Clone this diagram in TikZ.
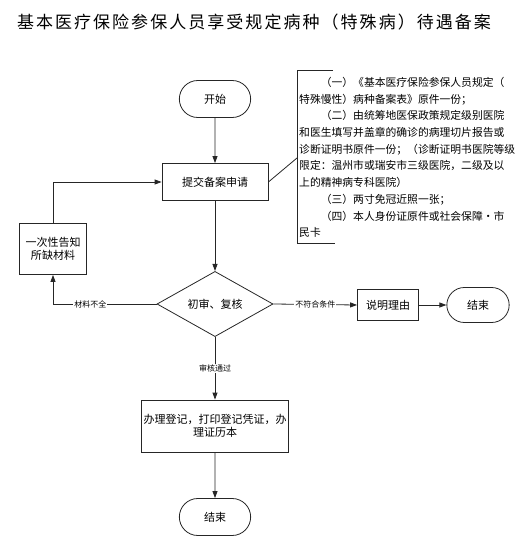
\documentclass[tikz,border=0pt]{standalone}
\usepackage{fontspec}
\setmainfont{Noto Sans CJK SC}
\newfontfamily\titlefont[LetterSpace=12]{Noto Sans CJK SC}
\usetikzlibrary{arrows.meta, positioning, shapes.geometric, shapes.misc}

\begin{document}
\begin{tikzpicture}[
    x=1pt, y=-1pt,
    >={Triangle[length=7pt, width=5pt]},
    line/.style={draw=black!85, line width=0.8pt},
    term/.style={rounded rectangle, line, minimum width=78pt,
                 minimum height=37pt, font=\fontsize{11}{13}\selectfont},
    proc/.style={rectangle, line, inner sep=2pt,
                 font=\fontsize{11}{13}\selectfont},
    check/.style={diamond, line, inner sep=0pt, minimum width=116pt,
                  minimum height=52pt, font=\fontsize{11}{13}\selectfont},
    lbl/.style={fill=white, inner sep=1pt, font=\fontsize{8}{9}\selectfont}
  ]
  \useasboundingbox (0,0) rectangle (527,548);

  % Title
  \node[font=\titlefont\fontsize{17}{20}\selectfont] (title) at (254,22)
    {基本医疗保险参保人员享受规定病种（特殊病）待遇备案};

  % Main column
  \node[term] (start) at (215,99) {开始};
  \node[proc, minimum width=106pt, minimum height=37pt] (submit)
    at (215,182) {提交备案申请};
  \node[check] (review) at (215,304) {初审、复核};
  \node[proc, minimum width=143pt, minimum height=52pt, align=center]
    (register) at (215,426) {办理登记，打印登记凭证，办\\理证历本};
  \node[term] (endb) at (215,517) {结束};

  % Side branches
  \node[proc, minimum width=67pt, minimum height=51pt, align=center]
    (notify) at (53,249) {一次性告知\\所缺材料};
  \node[proc, minimum width=61pt, minimum height=31pt] (reason)
    at (388,305) {说明理由};
  \node[term, minimum width=69pt, minimum height=35pt] (endr)
    at (478,305) {结束};

  % Materials note
  \draw[line] (333,70) -- (297,70) -- (297,243) -- (335,243);
  \coordinate (notetip) at (297,158);
  \node[anchor=north west, align=left, inner sep=0pt,
        font=\fontsize{10.8}{16.7}\selectfont] (note) at (299,77)
    {\hspace*{2em}（一）《基本医疗保险参保人员规定（\\
     特殊慢性）病种备案表》原件一份；\\
     \hspace*{2em}（二）由统筹地医保政策规定级别医院\\
     和医生填写并盖章的确诊的病理切片报告或\\
     诊断证明书原件一份；（诊断证明书医院等级\\
     限定：温州市或瑞安市三级医院，二级及以\\
     上的精神病专科医院）\\
     \hspace*{2em}（三）两寸免冠近照一张；\\
     \hspace*{2em}（四）本人身份证原件或社会保障•市\\
     民卡};

  % Connectors
  \draw[line, ->] (start) -- (submit);
  \draw[line, ->] (submit) -- (review);
  \draw[line] (submit.east) -- (notetip);
  \draw[line, ->] (review.west) -| node[lbl, pos=0.32] {材料不全} (notify.south);
  \draw[line, ->] (notify.north) |- (submit.west);
  \draw[line, ->] (review.east) -- node[lbl] {不符合条件} (reason.west);
  \draw[line, ->] (reason) -- (endr);
  \draw[line, ->] (review.south) -- node[lbl] {审核通过} (register.north);
  \draw[line, ->] (register) -- (endb);
\end{tikzpicture}
\end{document}
